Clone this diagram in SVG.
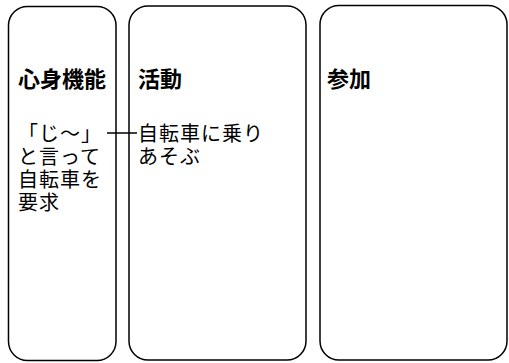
<svg xmlns="http://www.w3.org/2000/svg" width="509" height="363" viewBox="0 0 509 363">
<style>
.box{fill:#fff;stroke:#000;stroke-width:1.5}
.title{font-family:"Noto Sans CJK JP","Noto Sans CJK SC",sans-serif;font-size:22px;font-weight:bold;fill:#000}
.body{font-family:"Noto Sans CJK JP","Noto Sans CJK SC",sans-serif;font-size:20px;letter-spacing:1px;fill:#000}
.conn{stroke:#000;stroke-width:1.5;fill:none}
</style>
<rect width="509" height="363" fill="#fff"/>
<g id="node-shinshin">
<rect class="box" x="8.5" y="6.5" width="107.5" height="354" rx="19" ry="19"/>
<text class="title" x="18" y="87">心身機能</text>
<text class="body"><tspan x="18" y="141">「じ～」</tspan><tspan x="18" y="164">と言って</tspan><tspan x="18" y="187">自転車を</tspan><tspan x="18" y="210">要求</tspan></text>
</g>
<g id="node-katsudo">
<rect class="box" x="129" y="6" width="177" height="354" rx="19" ry="19"/>
<text class="title" x="138" y="87">活動</text>
<text class="body"><tspan x="138" y="141">自転車に乗り</tspan><tspan x="138" y="164">あそぶ</tspan></text>
</g>
<g id="node-sanka">
<rect class="box" x="320" y="5.5" width="187" height="354.5" rx="19" ry="19"/>
<text class="title" x="327" y="87">参加</text>
</g>
<g id="connectors">
<line class="conn" x1="107" y1="133" x2="137" y2="133"/>
</g>
</svg>
